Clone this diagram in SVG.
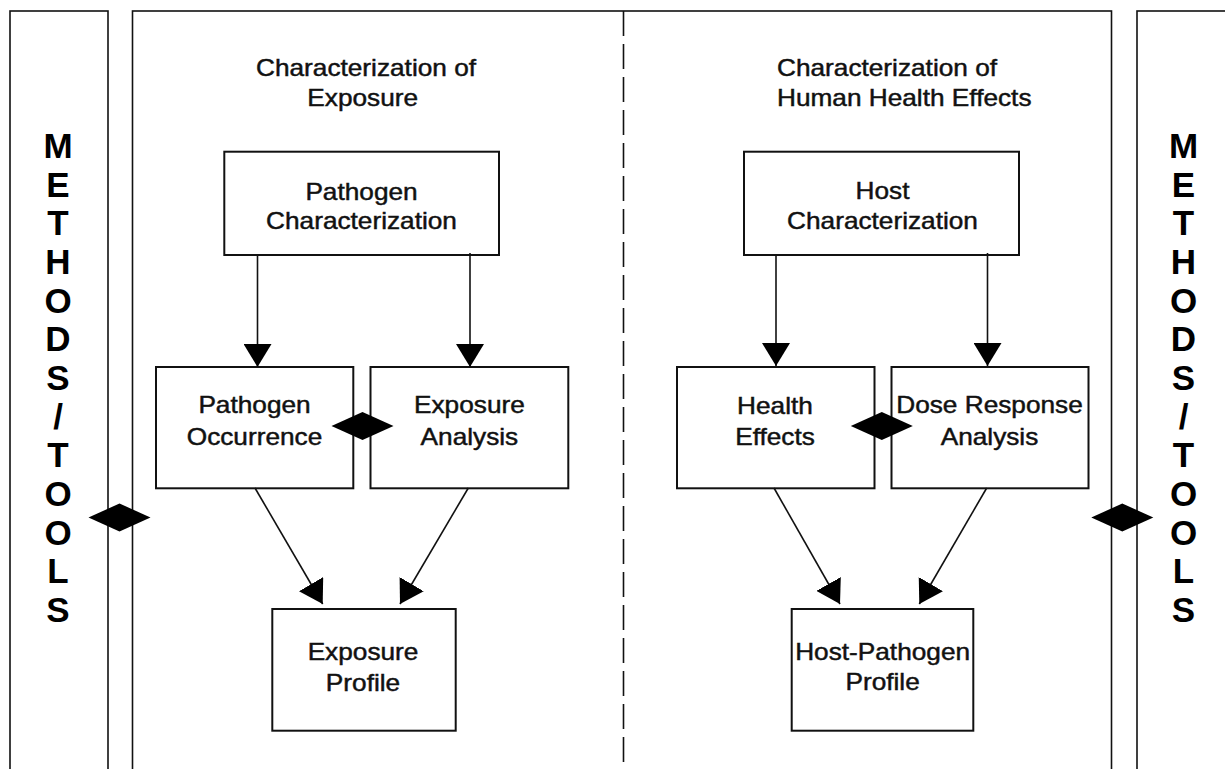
<svg xmlns="http://www.w3.org/2000/svg" width="1225" height="769" viewBox="0 0 1225 769">
<style>
.frame{fill:none;stroke:#111;stroke-width:1.6}
.box{fill:#fff;stroke:#111;stroke-width:2}
.ln{fill:none;stroke:#111;stroke-width:1.6}
.dash{fill:none;stroke:#111;stroke-width:1.6;stroke-dasharray:25 8}
.t{font-family:"Liberation Sans",Arial,sans-serif;font-size:23px;fill:#111;stroke:#111;stroke-width:0.45;text-anchor:middle}
.m{font-family:"Liberation Sans",Arial,sans-serif;font-size:35px;font-weight:bold;fill:#000;text-anchor:middle}
.dia{fill:#000}
</style>
<defs>
<marker id="arr" markerUnits="userSpaceOnUse" viewBox="0 0 23 28" refX="23" refY="14" markerWidth="23" markerHeight="28" orient="auto">
<path d="M0,0 L23,14 L0,28 Z" fill="#000"/>
</marker>
</defs>
<rect width="1225" height="769" fill="#fff"/>
<g id="frames">
<rect class="frame" x="10" y="11" width="98" height="790"/>
<rect class="frame" x="132.5" y="11" width="979" height="790"/>
<rect class="frame" x="1137" y="11" width="120" height="790"/>
<line class="dash" x1="623.5" y1="11" x2="623.5" y2="769"/>
</g>
<g id="methods-left">
<text class="m"><tspan x="58" y="158">M</tspan><tspan x="58" y="196.7">E</tspan><tspan x="58" y="235.3">T</tspan><tspan x="58" y="274">H</tspan><tspan x="58" y="312.7">O</tspan><tspan x="58" y="351.3">D</tspan><tspan x="58" y="390">S</tspan><tspan x="58" y="428.7">/</tspan><tspan x="58" y="467.3">T</tspan><tspan x="58" y="506">O</tspan><tspan x="58" y="544.7">O</tspan><tspan x="58" y="583.3">L</tspan><tspan x="58" y="622">S</tspan></text>
</g>
<g id="methods-right">
<text class="m"><tspan x="1183.5" y="158">M</tspan><tspan x="1183.5" y="196.7">E</tspan><tspan x="1183.5" y="235.3">T</tspan><tspan x="1183.5" y="274">H</tspan><tspan x="1183.5" y="312.7">O</tspan><tspan x="1183.5" y="351.3">D</tspan><tspan x="1183.5" y="390">S</tspan><tspan x="1183.5" y="428.7">/</tspan><tspan x="1183.5" y="467.3">T</tspan><tspan x="1183.5" y="506">O</tspan><tspan x="1183.5" y="544.7">O</tspan><tspan x="1183.5" y="583.3">L</tspan><tspan x="1183.5" y="622">S</tspan></text>
</g>
<g id="title-exposure">
<text class="t" transform="translate(366,0) scale(1.14,1)"><tspan x="0" y="76">Characterization of</tspan></text>
<text class="t" transform="translate(362.7,0) scale(1.14,1)"><tspan x="0" y="106">Exposure</tspan></text>
</g>
<g id="title-health">
<text class="t" transform="translate(777,0) scale(1.14,1)" style="text-anchor:start"><tspan x="0" y="76">Characterization of</tspan><tspan x="0" y="106">Human Health Effects</tspan></text>
</g>
<g id="pathogen-characterization">
<rect class="box" x="224.3" y="151.7" width="274.7" height="103.3"/>
<text class="t" transform="translate(361.5,0) scale(1.14,1)"><tspan x="0" y="200">Pathogen</tspan><tspan x="0" y="229">Characterization</tspan></text>
</g>
<g id="pathogen-occurrence">
<rect class="box" x="156" y="367" width="197.3" height="121.3"/>
<text class="t" transform="translate(254.5,0) scale(1.14,1)"><tspan x="0" y="413.5">Pathogen</tspan><tspan x="0" y="445">Occurrence</tspan></text>
</g>
<g id="exposure-analysis">
<rect class="box" x="370.5" y="367" width="197.8" height="121.3"/>
<text class="t" transform="translate(469.4,0) scale(1.14,1)"><tspan x="0" y="413.5">Exposure</tspan><tspan x="0" y="445">Analysis</tspan></text>
</g>
<g id="exposure-profile">
<rect class="box" x="272.3" y="609" width="183.4" height="121.7"/>
<text class="t" transform="translate(363,0) scale(1.14,1)"><tspan x="0" y="660">Exposure</tspan><tspan x="0" y="690.7">Profile</tspan></text>
</g>
<g id="host-characterization">
<rect class="box" x="744" y="151.7" width="275" height="103.3"/>
<text class="t" transform="translate(882.5,0) scale(1.14,1)"><tspan x="0" y="199.5">Host</tspan><tspan x="0" y="229">Characterization</tspan></text>
</g>
<g id="health-effects">
<rect class="box" x="677" y="367" width="197.5" height="121.3"/>
<text class="t" transform="translate(775,0) scale(1.14,1)"><tspan x="0" y="414">Health</tspan><tspan x="0" y="445">Effects</tspan></text>
</g>
<g id="dose-response-analysis">
<rect class="box" x="891.5" y="367" width="197" height="121.3"/>
<text class="t" transform="translate(989.5,0) scale(1.14,1)"><tspan x="0" y="413.5">Dose Response</tspan><tspan x="0" y="445">Analysis</tspan></text>
</g>
<g id="host-pathogen-profile">
<rect class="box" x="791.7" y="609" width="181.6" height="121.7"/>
<text class="t" transform="translate(882.6,0) scale(1.14,1)"><tspan x="0" y="660">Host-Pathogen</tspan><tspan x="0" y="690.5">Profile</tspan></text>
</g>
<g id="connectors">
<line class="ln" x1="257.5" y1="255" x2="257.5" y2="367" marker-end="url(#arr)"/>
<line class="ln" x1="470" y1="253" x2="470" y2="367" marker-end="url(#arr)"/>
<line class="ln" x1="776" y1="255" x2="776" y2="366" marker-end="url(#arr)"/>
<line class="ln" x1="987.5" y1="253" x2="987.5" y2="366" marker-end="url(#arr)"/>
<line class="ln" x1="255" y1="488" x2="322.7" y2="604" marker-end="url(#arr)"/>
<line class="ln" x1="468.3" y1="488" x2="400" y2="604" marker-end="url(#arr)"/>
<line class="ln" x1="774" y1="488" x2="840" y2="604" marker-end="url(#arr)"/>
<line class="ln" x1="986.7" y1="488" x2="919.3" y2="604" marker-end="url(#arr)"/>
<polygon class="dia" points="331.5,426 362.5,412 393.5,426 362.5,440"/>
<polygon class="dia" points="850.8,426 881.8,412 912.8,426 881.8,440"/>
<polygon class="dia" points="88.5,517.5 119.5,503.5 150.5,517.5 119.5,531.5"/>
<polygon class="dia" points="1091.3,517.5 1122.3,503.5 1153.3,517.5 1122.3,531.5"/>
</g>
</svg>
